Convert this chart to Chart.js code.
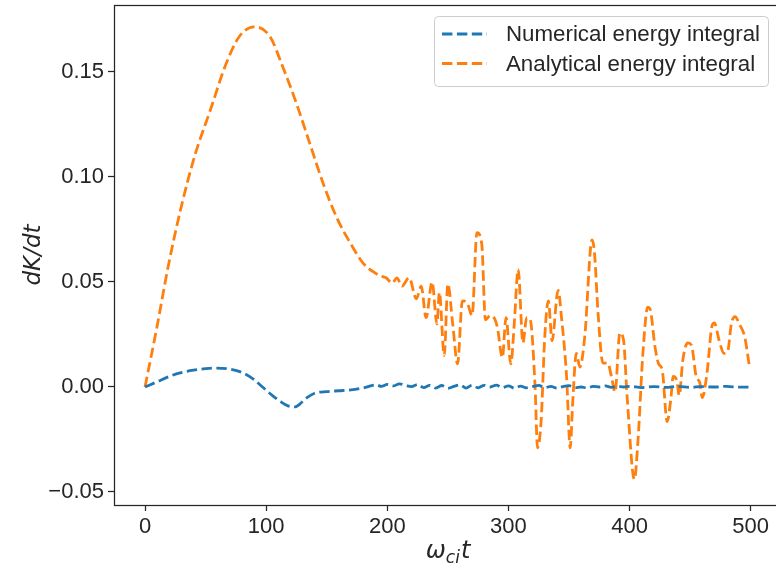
<!DOCTYPE html>
<html>
<head>
<meta charset="utf-8">
<script src="https://cdn.jsdelivr.net/npm/chart.js@4/dist/chart.umd.min.js"></script>
<style>
html,body{margin:0;padding:0;background:#fff;overflow:hidden;}
#wrap{width:776px;height:573px;overflow:hidden;position:relative;}
canvas{display:block;}
</style>
</head>
<body>
<div id="wrap"><canvas id="c" width="782" height="573"></canvas></div>
<script>
// ---- data ----
const seriesLabels = ["Numerical energy integral", "Analytical energy integral"];
const seriesColors = ["#1f77b4", "#ff7f0e"];

const analyticalT = [0,10,19,30,41,54,67,78,90,103,114,125,136,147,158,169,180,188,194,199,204,208,212,218,224,228,232,237,241,243,247,250,254,258,262,266,270,274,278,281,285,289,291,295,298,302,305,308,312,315,318,322,324,327,330,333,336,341,344,348,351,353,356,359,363,369,371,374,378,382,385,388,392,395,398,404,407,411,415,417,421,424,427,431,434,436,439,441,444,448,451,455,458,460,464,468,470,474,478,481,484,487,491,495,499];
const analyticalY = [0.000,0.029,0.057,0.086,0.110,0.132,0.154,0.167,0.1715,0.167,0.152,0.135,0.116,0.097,0.081,0.069,0.059,0.055,0.053,0.052,0.0495,0.052,0.048,0.052,0.042,0.048,0.033,0.050,0.030,0.045,0.015,0.049,0.030,0.011,0.041,0.040,0.034,0.0735,0.068,0.032,0.034,0.032,0.028,0.014,0.033,0.011,0.032,0.056,0.021,0.033,0.032,0.000,-0.029,-0.016,0.024,0.041,0.022,0.046,0.032,0.005,-0.029,-0.008,0.016,0.0095,0.024,0.070,0.064,0.035,0.0114,0.0114,0.005,-0.0024,0.0257,0.0224,-0.005,-0.044,-0.025,0.016,0.038,0.037,0.019,0.011,0.008,-0.0165,-0.006,0.005,0.003,-0.004,0.013,0.021,0.020,0.005,0.002,-0.005,0.007,0.029,0.0305,0.022,0.016,0.017,0.030,0.0335,0.0295,0.024,0.0095];

const numericalT = [0,10,20,29,40,50,59,70,81,90,97,105,112,118,124,128,134,140,150,160,170,180,191,195,200,205,210,215,220,225,230,235,240,245,250,255,260,265,270,275,280,285,290,295,300,305,310,315,320,325,330,335,340,345,350,355,360,365,370,375,380,385,390,395,400,410,420,430,440,450,460,470,480,490,500];
const numericalY = [0,0.0025,0.005,0.0067,0.008,0.0087,0.009,0.0085,0.0067,0.0035,0.0,-0.004,-0.007,-0.009,-0.0095,-0.008,-0.005,-0.003,-0.0022,-0.0018,-0.0014,-0.0005,0.001,0.0003,0.0012,0.0005,0.0015,0.0008,0.0002,0.0012,-0.0003,0.0008,-0.0005,0.0007,-0.0006,0.0003,0.001,-0.0005,0.0008,-0.0004,0.0008,0.0,0.0009,-0.0003,0.0005,-0.0006,0.0004,-0.0004,0.0002,0.0008,-0.0003,0.0003,-0.0005,0.0002,0.0006,-0.0004,0.0,-0.0005,0.0003,0.0,0.0005,-0.0002,0.0004,0.0,0.0003,-0.0003,0.0002,-0.0002,0.0003,-0.0002,0.0002,0.0,0.0003,-0.0001,0.0];

const xTicks = [0,100,200,300,400,500];
const yTicks = [-0.05,0.00,0.05,0.10,0.15];

// ---- chart ----
const TXT = '#262626';
const tickFont = {family:"'Liberation Sans', Arial, sans-serif", size:22};

function pts(t,y){return t.map((v,i)=>({x:v,y:y[i]}));}

const framePlugin = {
  id:'frame',
  afterDraw(chart){
    const {ctx, chartArea:a} = chart;
    ctx.save();
    ctx.strokeStyle = TXT; ctx.lineWidth = 1.25;
    ctx.strokeRect(a.left+0.5, a.top+0.5, a.right-a.left, a.bottom-a.top);
    ctx.restore();
  }
};

const xTitlePlugin = {
  id:'xtitle',
  afterDraw(chart){
    const ctx = chart.ctx, a = chart.chartArea;
    const cx = 448, base = 558;
    ctx.save();
    ctx.fillStyle = TXT;
    ctx.textBaseline = 'alphabetic';
    const big = "italic 24px 'DejaVu Sans'", small = "italic 17px 'DejaVu Sans'";
    ctx.font = big; const w1 = ctx.measureText('ω').width, w3 = ctx.measureText('t').width;
    ctx.font = small; const w2 = ctx.measureText('ci').width;
    let x = cx - (w1+w2+w3+1)/2;
    ctx.font = big; ctx.fillText('ω', x, base); x += w1;
    ctx.font = small; ctx.fillText('ci', x, base+5); x += w2 + 1;
    ctx.font = big; ctx.fillText('t', x, base);
    ctx.restore();
  }
};

const legendPlugin = {
  id:'boxlegend',
  afterDraw(chart){
    const ctx = chart.ctx;
    const bx = 434.5, by = 16.5, bw = 334, bh = 70, r = 4;
    ctx.save();
    ctx.beginPath();
    ctx.moveTo(bx+r,by); ctx.lineTo(bx+bw-r,by); ctx.arcTo(bx+bw,by,bx+bw,by+r,r);
    ctx.lineTo(bx+bw,by+bh-r); ctx.arcTo(bx+bw,by+bh,bx+bw-r,by+bh,r);
    ctx.lineTo(bx+r,by+bh); ctx.arcTo(bx,by+bh,bx,by+bh-r,r);
    ctx.lineTo(bx,by+r); ctx.arcTo(bx,by,bx+r,by,r); ctx.closePath();
    ctx.fillStyle = 'rgba(255,255,255,0.8)'; ctx.fill();
    ctx.strokeStyle = '#cccccc'; ctx.lineWidth = 1; ctx.stroke();
    chart.data.datasets.forEach((ds,i)=>{
      const y = 34 + i*29.5;
      ctx.beginPath();
      ctx.setLineDash([10.4,4.5]);
      ctx.strokeStyle = ds.borderColor; ctx.lineWidth = 2.8;
      ctx.moveTo(442,y); ctx.lineTo(487,y); ctx.stroke();
      ctx.setLineDash([]);
      ctx.fillStyle = TXT;
      ctx.font = "22.3px 'Liberation Sans', Arial, sans-serif";
      ctx.textBaseline = 'middle';
      ctx.fillText(ds.label, 506, y+1);
    });
    ctx.restore();
  }
};

new Chart(document.getElementById('c'), {
  type:'line',
  data:{
    datasets:[
      {label:seriesLabels[0], data:pts(numericalT,numericalY), borderColor:seriesColors[0], borderWidth:2.8, borderDash:[10.4,4.5], pointRadius:0, cubicInterpolationMode:'monotone', fill:false},
      {label:seriesLabels[1], data:pts(analyticalT,analyticalY), borderColor:seriesColors[1], borderWidth:2.8, borderDash:[10.4,4.5], pointRadius:0, cubicInterpolationMode:'monotone', fill:false}
    ]
  },
  options:{
    responsive:false, animation:false, devicePixelRatio:1,
    layout:{padding:{top:5,right:1,left:0,bottom:0}},
    plugins:{legend:{display:false}, tooltip:{enabled:false}},
    scales:{
      x:{
        type:'linear', min:-25.6, max:525,
        afterBuildTicks(s){ s.ticks = xTicks.map(v=>({value:v})); },
        afterFit(s){ s.height = 68; s.paddingLeft = 0; s.paddingRight = 0; },
        ticks:{font:tickFont, color:TXT, padding:3, maxRotation:0, callback:v=>String(v)},
        grid:{display:true, drawOnChartArea:false, drawTicks:true, tickLength:6, tickColor:TXT, tickWidth:1.25},
        border:{display:false}
      },
      y:{
        type:'linear', min:-0.0562, max:0.1819,
        afterBuildTicks(s){ s.ticks = yTicks.map(v=>({value:v})); },
        afterFit(s){ s.width = 114; s.paddingTop = 0; s.paddingBottom = 0; },
        ticks:{font:tickFont, color:TXT, padding:4, callback:v=>v.toFixed(2).replace('-','\u2212')},
        grid:{display:true, drawOnChartArea:false, drawTicks:true, tickLength:6, tickColor:TXT, tickWidth:1.25},
        border:{display:false},
        title:{display:true, text:'dK/dt', color:TXT, font:{family:"'DejaVu Sans'", style:'italic', size:23}, padding:{top:20,bottom:0}}
      }
    }
  },
  plugins:[framePlugin, xTitlePlugin, legendPlugin]
});
</script>
</body>
</html>
